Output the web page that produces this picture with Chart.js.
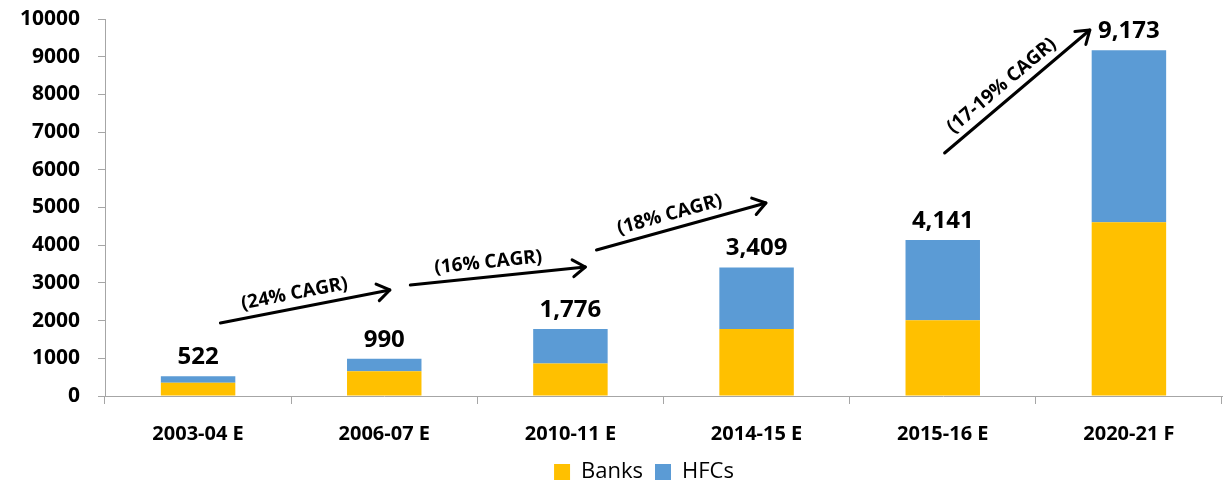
<!DOCTYPE html>
<html>
<head>
<meta charset="utf-8">
<script src="https://cdn.jsdelivr.net/npm/chart.js@4/dist/chart.umd.min.js"></script>
<style>
  html, body { margin: 0; padding: 0; background: #ffffff; }
  #wrap { width: 1224px; height: 484px; position: relative; }
</style>
</head>
<body>
<div id="wrap"><canvas id="housingChart" width="1224" height="484"></canvas></div>
<script>
  const years = ['2003-04 E', '2006-07 E', '2010-11 E', '2014-15 E', '2015-16 E', '2020-21 F'];
  const banks = [350, 655, 860, 1780, 2010, 4610];
  const hfcs = [172, 335, 916, 1629, 2131, 4563];
  const yTicks = [0, 1000, 2000, 3000, 4000, 5000, 6000, 7000, 8000, 9000, 10000];

  // growth arrows, in category index / value units
  const growthArrows = [
    { label: '(24% CAGR)', x0: 0.12, y0: 1936, x1: 1.03, y1: 2812 },
    { label: '(16% CAGR)', x0: 1.14, y0: 2944, x1: 2.08, y1: 3422 },
    { label: '(18% CAGR)', x0: 2.14, y0: 3873, x1: 3.05, y1: 5119 },
    { label: '(17-19% CAGR)', x0: 4.01, y0: 6446, x1: 4.79, y1: 9708 }
  ];

  const totals = banks.map(function (b, i) { return b + hfcs[i]; });
  const FONT = "'Open Sans', sans-serif";

  const totalLabels = {
    id: 'totalLabels',
    afterDatasetsDraw(chart) {
      const { ctx } = chart;
      const meta = chart.getDatasetMeta(1);
      ctx.save();
      ctx.fillStyle = '#000000';
      ctx.font = 'bold 24px ' + FONT;
      ctx.textAlign = 'center';
      ctx.textBaseline = 'bottom';
      meta.data.forEach(function (bar, i) {
        ctx.fillText(totals[i].toLocaleString('en-US'), bar.x, bar.y - 7);
      });
      ctx.restore();
    }
  };

  const arrowNotes = {
    id: 'arrowNotes',
    afterDatasetsDraw(chart) {
      const { ctx } = chart;
      const xs = chart.scales.x;
      const ys = chart.scales.y;
      ctx.save();
      growthArrows.forEach(function (a) {
        const px0 = xs.getPixelForValue(a.x0);
        const py0 = ys.getPixelForValue(a.y0);
        const px1 = xs.getPixelForValue(a.x1);
        const py1 = ys.getPixelForValue(a.y1);
        const ang = Math.atan2(py1 - py0, px1 - px0);

        ctx.strokeStyle = '#000000';
        ctx.lineWidth = 3;
        ctx.lineCap = 'round';
        ctx.lineJoin = 'round';
        ctx.beginPath();
        ctx.moveTo(px0, py0);
        ctx.lineTo(px1, py1);
        ctx.stroke();

        const head = 15;
        const spread = 0.6;
        ctx.beginPath();
        ctx.moveTo(px1 - head * Math.cos(ang - spread), py1 - head * Math.sin(ang - spread));
        ctx.lineTo(px1, py1);
        ctx.lineTo(px1 - head * Math.cos(ang + spread), py1 - head * Math.sin(ang + spread));
        ctx.stroke();

        const mx = (px0 + px1) / 2;
        const my = (py0 + py1) / 2;
        ctx.translate(mx, my);
        ctx.rotate(ang);
        ctx.fillStyle = '#000000';
        ctx.font = 'bold 19px ' + FONT;
        ctx.textAlign = 'center';
        ctx.textBaseline = 'bottom';
        ctx.fillText(a.label, -8, -5);
        ctx.setTransform(1, 0, 0, 1, 0, 0);
      });
      ctx.restore();
    }
  };

  // legend sits a bit right of centre and low in the reference
  const legendNudge = {
    id: 'legendNudge',
    afterLayout(chart) {
      const lg = chart.legend;
      if (!lg) return;
      lg.left += 33;
      lg.right += 33;
      lg.top += 9;
      lg.bottom += 9;
    }
  };

  new Chart(document.getElementById('housingChart').getContext('2d'), {
    type: 'bar',
    plugins: [totalLabels, arrowNotes, legendNudge],
    data: {
      labels: years,
      datasets: [
        {
          label: 'Banks',
          data: banks,
          backgroundColor: '#FFC000',
          categoryPercentage: 1,
          barPercentage: 0.4
        },
        {
          label: 'HFCs',
          data: hfcs,
          backgroundColor: '#5B9BD5',
          categoryPercentage: 1,
          barPercentage: 0.4
        }
      ]
    },
    options: {
      responsive: false,
      animation: false,
      layout: { padding: { left: 0, right: 2, top: 19, bottom: 0 } },
      plugins: {
        legend: {
          position: 'bottom',
          labels: {
            boxWidth: 16,
            boxHeight: 16,
            padding: 12,
            color: '#000000',
            font: { family: FONT, size: 22 }
          }
        },
        tooltip: { enabled: false }
      },
      scales: {
        x: {
          stacked: true,
          afterFit(scale) {
            scale.height = 44;
          },
          grid: { drawOnChartArea: false, color: '#a6a6a6', tickLength: 8 },
          border: { color: '#a6a6a6', width: 1 },
          ticks: {
            color: '#000000',
            padding: 18,
            font: { family: FONT, size: 20, weight: 'bold' }
          }
        },
        y: {
          stacked: true,
          min: 0,
          max: 10000,
          afterBuildTicks(scale) {
            scale.ticks = yTicks.map(function (v) { return { value: v }; });
          },
          afterFit(scale) {
            scale.width = 105;
          },
          // long tick space so labels sit away from the axis, dash keeps only 7px mark
          grid: {
            drawOnChartArea: false,
            color: '#a6a6a6',
            tickLength: 23,
            tickBorderDash: [0, 16, 7, 100]
          },
          border: { color: '#a6a6a6', width: 1 },
          ticks: {
            color: '#000000',
            padding: 2,
            font: { family: FONT, size: 21, weight: 'bold' },
            callback(value) {
              return String(value);
            }
          }
        }
      }
    }
  });
</script>
</body>
</html>
